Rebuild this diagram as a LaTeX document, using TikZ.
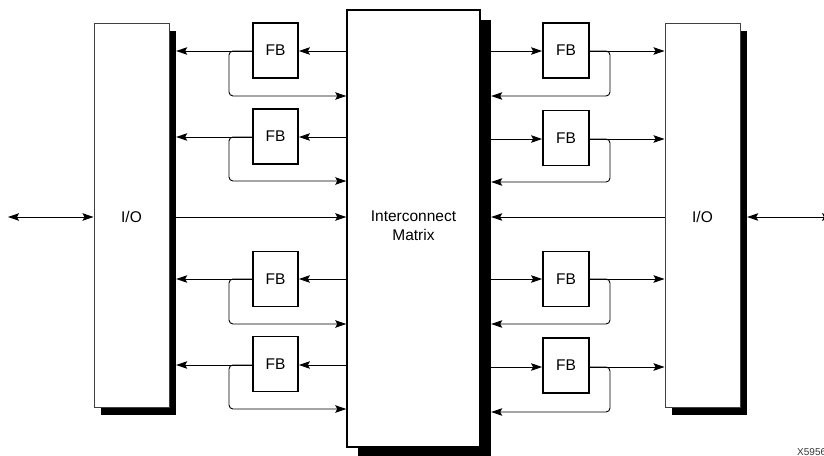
\documentclass[tikz,border=0pt]{standalone}
\usepackage{fontspec}
\setmainfont{Liberation Sans}
\usetikzlibrary{arrows.meta}
\begin{document}
\begin{tikzpicture}[x=1pt,y=-1pt,
  txt/.style={font=\fontsize{15.5}{19}\selectfont},
  fbbox/.style={draw, line width=1.8pt, minimum width=45pt, minimum height=55pt, inner sep=0pt, txt},
  iobox/.style={draw=black!75, line width=1pt, fill=white, minimum width=75pt, minimum height=384pt, inner sep=0pt},
  mbox/.style={draw, line width=1.5pt, fill=white, minimum width=133pt, minimum height=437pt, inner sep=0pt},
  shade/.style={fill=black, draw=none, inner sep=0pt},
  conn/.style={line width=0.9pt, -{Stealth[length=11pt,width=7.5pt,inset=2pt]}},
  dconn/.style={line width=0.9pt, {Stealth[length=11pt,width=7.5pt,inset=2pt]}-{Stealth[length=11pt,width=7.5pt,inset=2pt]}},
  fbk/.style={conn, rounded corners=4pt}
]
\useasboundingbox (0,0) rectangle (824,455);
% shadows
\node[shade, minimum width=75pt, minimum height=384pt] (IOLs) at (138.5,223) {};
\node[shade, minimum width=133pt, minimum height=437pt] (Ms) at (424.5,238.5) {};
\node[shade, minimum width=75pt, minimum height=384pt] (IORs) at (709.5,223) {};
% main boxes
\node[iobox] (IOL) at (131.5,215) {};
\node[txt] (IOLt) at (131.5,217) {I/O};
\node[mbox] (M) at (413.5,228.5) {};
\node[txt, align=center] (Mt) at (413.5,226) {Interconnect\\Matrix};
\node[iobox] (IOR) at (702.5,215) {};
\node[txt] (IORt) at (702.5,217) {I/O};
% FB boxes left
\node[fbbox] (L1) at (275.5,50.5) {FB};
\node[fbbox] (L2) at (275.5,136.5) {FB};
\node[fbbox] (L3) at (275.5,279) {FB};
\node[fbbox] (L4) at (275.5,364) {FB};
% FB boxes right
\node[fbbox, minimum width=46pt] (R1) at (566,50.5) {FB};
\node[fbbox, minimum width=46pt] (R2) at (566,138) {FB};
\node[fbbox, minimum width=46pt] (R3) at (566,279) {FB};
\node[fbbox, minimum width=46pt] (R4) at (566,365.5) {FB};
% left side connectors
\foreach \n/\y/\f in {L1/51/96, L2/137/181, L3/279/324, L4/365/409}{
  \draw[conn] (M.west |- 0,\y) -- (\n.east |- 0,\y);
  \draw[conn] (\n.west |- 0,\y) -- (IOLs.east |- 0,\y);
  \draw[fbk] (\n.west |- 0,\y) -- (229,\y) -- (229,\f) -- (M.west |- 0,\f);
}
% right side connectors
\foreach \n/\y/\f in {R1/51/96, R2/139/182, R3/279/324, R4/367/412}{
  \draw[conn] (Ms.east |- 0,\y) -- (\n.west |- 0,\y);
  \draw[conn] (\n.east |- 0,\y) -- (IOR.west |- 0,\y);
  \draw[fbk] (\n.east |- 0,\y) -- (610,\y) -- (610,\f) -- (Ms.east |- 0,\f);
}
% middle connectors
\coordinate (LE) at (8,217);
\coordinate (RE) at (833,217);
\draw[dconn] (LE) -- (IOL.west |- 0,217);
\draw[conn] (IOLs.east |- 0,217) -- (M.west |- 0,217);
\draw[conn] (IOR.west |- 0,217) -- (Ms.east |- 0,217);
\draw[dconn] (IORs.east |- 0,217) -- (RE);
% figure id
\node[anchor=base west, font=\fontsize{10}{12}\selectfont, inner sep=0pt, text=black!80] (id) at (797,455.5) {X5956};
\end{tikzpicture}
\end{document}
